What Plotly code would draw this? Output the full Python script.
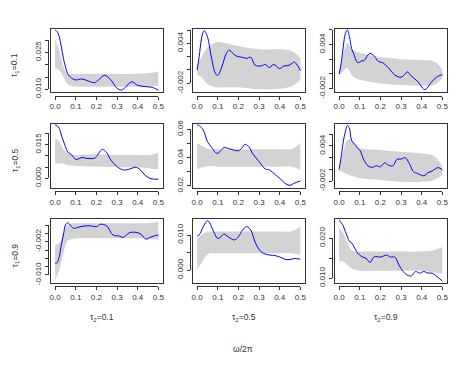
import plotly.graph_objects as go

W, H = 457, 381

# row / column labels
TAU1 = ["0.1", "0.5", "0.9"]
TAU2 = ["0.1", "0.5", "0.9"]
X_TICKS = [0.0, 0.1, 0.2, 0.3, 0.4, 0.5]
X_LABELS = ["0.0", "0.1", "0.2", "0.3", "0.4", "0.5"]

# frequency grid of the grey bands
BAND_X = [0.0, 0.02, 0.04, 0.06, 0.08, 0.10, 0.20, 0.30, 0.40, 0.46, 0.50]

# tau1=0.1, tau2=0.1
omega_11 = [0, 0.01, 0.02, 0.03, 0.04, 0.05, 0.06, 0.08, 0.10, 0.13, 0.16, 0.19, 0.21, 0.24,
            0.27, 0.30, 0.32, 0.34, 0.37, 0.40, 0.44, 0.47, 0.50]
spec_11 = [0.0341, 0.0334, 0.0313, 0.0273, 0.0226, 0.0192, 0.0165, 0.0145, 0.0138, 0.0142, 0.0134,
           0.0127, 0.0138, 0.0157, 0.0138, 0.0104, 0.0097, 0.0108, 0.0131, 0.0116, 0.0111, 0.0108, 0.0097]
lower_11 = [0.0185, 0.0178, 0.0151, 0.0122, 0.0114, 0.0111, 0.0111, 0.0111, 0.0111, 0.0112, 0.0114]
upper_11 = [0.0303, 0.0260, 0.0192, 0.0162, 0.0162, 0.0162, 0.0163, 0.0162, 0.0163, 0.0166, 0.0172]

# tau1=0.1, tau2=0.5
omega_12 = [0, 0.01, 0.02, 0.03, 0.035, 0.05, 0.07, 0.09, 0.10, 0.12, 0.14, 0.155, 0.17, 0.19, 0.22,
            0.24, 0.26, 0.28, 0.31, 0.33, 0.35, 0.37, 0.40, 0.42, 0.44, 0.46, 0.47, 0.49, 0.50]
spec_12 = [0.0, 0.002, 0.0045, 0.00575, 0.0059, 0.005, 0.00175, -0.0006, -0.0008, 0.0005, 0.0024,
           0.003, 0.0026, 0.0021, 0.0019, 0.00175, 0.0019, 0.00075, 0.0006, 0.00085, 0.00035,
           0.00085, 0.0002, 0.0006, 0.00065, 0.001, 0.0012, 0.0005, -0.0001]
lower_12 = [-0.0008, -0.0010, -0.0018, -0.0023, -0.0025, -0.0026, -0.0026, -0.0029, -0.0028, -0.0024, -0.0015]
upper_12 = [0.0008, 0.0018, 0.0030, 0.0036, 0.0040, 0.0042, 0.0036, 0.0031, 0.0031, 0.0028, 0.0018]

# tau1=0.1, tau2=0.9
omega_13 = [0, 0.01, 0.02, 0.03, 0.04, 0.05, 0.06, 0.07, 0.09, 0.11, 0.12, 0.14, 0.15, 0.17, 0.19,
            0.21, 0.24, 0.27, 0.30, 0.32, 0.33, 0.35, 0.38, 0.41, 0.42, 0.45, 0.48, 0.50]
spec_13 = [0, 0.00145, 0.0037, 0.0055, 0.006, 0.0051, 0.0035, 0.0028, 0.00155, 0.0018, 0.0018,
           0.0026, 0.0028, 0.00245, 0.0017, 0.00155, 0.0008, -0.00015, -0.00045, 0.0, 0.0003,
           -0.0003, -0.001, -0.0021, -0.0021, -0.001, -0.0003, -0.0001]
lower_13 = [-0.0002, 0.0004, 0.0008, -0.0001, -0.0006, -0.0008, -0.0013, -0.0015, -0.0016, -0.0015, -0.0006]
upper_13 = [0.0003, 0.0028, 0.0042, 0.0034, 0.0031, 0.0029, 0.0023, 0.0020, 0.0019, 0.0017, 0.0006]

# tau1=0.5, tau2=0.1
omega_21 = [0, 0.01, 0.02, 0.03, 0.05, 0.06, 0.08, 0.10, 0.12, 0.13, 0.15, 0.19, 0.20, 0.22, 0.23,
            0.25, 0.27, 0.30, 0.33, 0.36, 0.39, 0.41, 0.43, 0.45, 0.47, 0.50]
spec_21 = [0.0237, 0.0234, 0.0222, 0.0193, 0.0141, 0.0119, 0.0104, 0.0084, 0.0089, 0.0093, 0.0089,
           0.0089, 0.0096, 0.0123, 0.0129, 0.0114, 0.0081, 0.0052, 0.0037, 0.0041, 0.0049, 0.004,
           0.0019, 0.0004, -0.0003, -0.0004]
lower_21 = [0.0067, 0.0065, 0.0065, 0.0059, 0.0057, 0.0055, 0.0052, 0.0049, 0.0049, 0.0044, 0.0040]
upper_21 = [0.0178, 0.0163, 0.0129, 0.0114, 0.0106, 0.0104, 0.0107, 0.0104, 0.0104, 0.0104, 0.0114]

# tau1=0.5, tau2=0.5
omega_22 = [0, 0.01, 0.03, 0.05, 0.07, 0.09, 0.10, 0.12, 0.13, 0.16, 0.20, 0.22, 0.23, 0.25, 0.27,
            0.30, 0.33, 0.35, 0.38, 0.40, 0.43, 0.45, 0.47, 0.50]
spec_22 = [0.0631, 0.0626, 0.0595, 0.0513, 0.0473, 0.0435, 0.0431, 0.0459, 0.0471, 0.0461, 0.0449,
           0.0473, 0.0494, 0.0478, 0.0426, 0.0372, 0.032, 0.0313, 0.0278, 0.0254, 0.0214, 0.0205,
           0.0219, 0.0235]
lower_22 = [0.0318, 0.0330, 0.0336, 0.0341, 0.0340, 0.0336, 0.0336, 0.0336, 0.0336, 0.0335, 0.0313]
upper_22 = [0.0501, 0.0485, 0.0470, 0.0459, 0.0459, 0.0459, 0.0459, 0.0459, 0.0459, 0.0462, 0.0501]

# tau1=0.5, tau2=0.9
omega_23 = [0, 0.01, 0.02, 0.03, 0.04, 0.05, 0.06, 0.08, 0.09, 0.10, 0.12, 0.14, 0.16, 0.18, 0.20,
            0.22, 0.24, 0.26, 0.28, 0.30, 0.32, 0.34, 0.36, 0.38, 0.41, 0.43, 0.45, 0.48, 0.50]
spec_23 = [0, 0.00216, 0.0047, 0.0064, 0.0075, 0.007, 0.005, 0.0041, 0.0036, 0.0033, 0.0016, 0.0006,
           0.00034, 0.0006, 0.00045, 0.0011, 0.0007, 0.0006, 0.0017, 0.00176, 0.002, 0.001, -0.0004,
           -0.0007, -0.0011, -0.00057, -0.0003, 0.0003, -0.0001]
lower_23 = [-0.0002, -0.0005, -0.0009, -0.0011, -0.0013, -0.0015, -0.0018, -0.0021, -0.0021, -0.0018, -0.0010]
upper_23 = [0.0002, 0.0030, 0.0050, 0.0050, 0.0040, 0.0036, 0.0033, 0.0030, 0.0027, 0.0023, 0.0005]

# tau1=0.9, tau2=0.1
omega_31 = [0, 0.01, 0.02, 0.03, 0.04, 0.05, 0.06, 0.07, 0.09, 0.11, 0.14, 0.17, 0.20, 0.22, 0.25,
            0.28, 0.31, 0.33, 0.36, 0.40, 0.42, 0.44, 0.46, 0.48, 0.50]
spec_31 = [-0.0072, -0.007, -0.0056, -0.0028, -0.0004, 0.002, 0.00256, 0.0022, 0.0012, 0.00144,
           0.00176, 0.0018, 0.0016, 0.0022, 0.00176, -0.0004, -0.00064, -0.00096, 0.00016, 0.00016,
           -0.0004, -0.0014, -0.00096, -0.0006, -0.0004]
lower_31 = [-0.0112, -0.0088, -0.0048, -0.0018, -0.0014, -0.0012, -0.0012, -0.0012, -0.0012, -0.0013, -0.0016]
upper_31 = [-0.0028, -0.0024, 0.0000, 0.0020, 0.0024, 0.0024, 0.0024, 0.0024, 0.0024, 0.0025, 0.0028]

# tau1=0.9, tau2=0.5
omega_32 = [0, 0.01, 0.03, 0.05, 0.06, 0.08, 0.10, 0.12, 0.13, 0.15, 0.18, 0.20, 0.22, 0.24, 0.26,
            0.28, 0.30, 0.32, 0.35, 0.38, 0.41, 0.43, 0.45, 0.47, 0.50]
spec_32 = [0.0097, 0.01, 0.0124, 0.0141, 0.0135, 0.011, 0.009, 0.0098, 0.0103, 0.0095, 0.0086, 0.0095,
           0.0114, 0.0124, 0.0114, 0.0081, 0.0059, 0.0048, 0.0043, 0.0041, 0.0035, 0.003, 0.003,
           0.0033, 0.0031]
lower_32 = [0.0002, 0.0019, 0.0038, 0.0048, 0.0048, 0.0048, 0.0048, 0.0048, 0.0048, 0.0048, 0.0043]
upper_32 = [0.0090, 0.0100, 0.0107, 0.0110, 0.0110, 0.0110, 0.0110, 0.0110, 0.0110, 0.0111, 0.0124]

# tau1=0.9, tau2=0.9
omega_33 = [0, 0.01, 0.02, 0.03, 0.04, 0.05, 0.06, 0.08, 0.09, 0.11, 0.13, 0.15, 0.17, 0.20, 0.23,
            0.25, 0.27, 0.29, 0.31, 0.33, 0.35, 0.37, 0.39, 0.41, 0.43, 0.45, 0.47, 0.50]
spec_33 = [0.0246, 0.0239, 0.0231, 0.0217, 0.0204, 0.0192, 0.0189, 0.0171, 0.0163, 0.0154, 0.015,
           0.014, 0.0154, 0.0153, 0.0158, 0.0153, 0.0153, 0.0133, 0.0117, 0.0108, 0.0106, 0.0117,
           0.0113, 0.0117, 0.0113, 0.0113, 0.0106, 0.0093]
lower_33 = [0.0142, 0.0142, 0.0133, 0.0125, 0.0121, 0.0119, 0.0119, 0.0119, 0.0119, 0.0115, 0.0111]
upper_33 = [0.0225, 0.0213, 0.0188, 0.0171, 0.0167, 0.0167, 0.0167, 0.0167, 0.0167, 0.0170, 0.0178]

# y tick values and the labels R actually printed (others dropped for overlap)
yticks_a = [-0.002, 0.0, 0.002, 0.004, 0.006]
ylabels_a = ["-0.002", "", "", "0.004", ""]
yticks_11 = [0.010, 0.015, 0.020, 0.025, 0.030]
ylabels_11 = ["0.010", "", "", "0.025", ""]
yticks_21 = [0.0, 0.005, 0.010, 0.015, 0.020]
ylabels_21 = ["0.000", "", "", "0.015", ""]
yticks_22 = [0.02, 0.03, 0.04, 0.05, 0.06]
ylabels_22 = ["0.02", "", "0.04", "", "0.06"]
yticks_31 = [-0.010, -0.008, -0.006, -0.004, -0.002, 0.0, 0.002]
ylabels_31 = ["-0.010", "", "", "", "-0.002", "", ""]
yticks_32 = [0.0, 0.005, 0.010]
ylabels_32 = ["0.000", "", "0.010"]
yticks_33 = [0.010, 0.015, 0.020]
ylabels_33 = ["0.010", "", "0.020"]

panels = [
    (omega_11, spec_11, lower_11, upper_11, yticks_11, ylabels_11, [0.0088, 0.0347]),
    (omega_12, spec_12, lower_12, upper_12, yticks_a, ylabels_a, [-0.00335, 0.00623]),
    (omega_13, spec_13, lower_13, upper_13, yticks_a, ylabels_a, [-0.0025, 0.0062]),
    (omega_21, spec_21, lower_21, upper_21, yticks_21, ylabels_21, [-0.0041, 0.0243]),
    (omega_22, spec_22, lower_22, upper_22, yticks_22, ylabels_22, [0.0189, 0.064]),
    (omega_23, spec_23, lower_23, upper_23, yticks_a, ylabels_a, [-0.0031, 0.0078]),
    (omega_31, spec_31, lower_31, upper_31, yticks_31, ylabels_31, [-0.01185, 0.00347]),
    (omega_32, spec_32, lower_32, upper_32, yticks_32, ylabels_32, [-0.0036, 0.0146]),
    (omega_33, spec_33, lower_33, upper_33, yticks_33, ylabels_33, [0.0089, 0.02485]),
]

# panel geometry in window pixels; the page body adds an 8px margin
OFF = 8
col_left = [51, 193, 335]
row_top = [28.5, 123.7, 218.9]
box_w, box_h = 111.5, 63.8
gap = 3.5
xr = [-0.02, 0.52]
ink = "#333333"
font = dict(family="Liberation Sans, Arial", size=8, color=ink)


def px(p):
    return (p - OFF) / W


def py(p):
    return 1 - (p - OFF) / H


fig = go.Figure()
layout = {}

for k, (om, sp, lo, hi, yt, yl, yr) in enumerate(panels):
    i, j = divmod(k, 3)
    n, m = k + 1, k + 10
    s = "" if n == 1 else str(n)
    x0, x1 = col_left[j], col_left[j] + box_w
    y0, y1 = row_top[i], row_top[i] + box_h

    fig.add_trace(go.Scatter(x=BAND_X, y=lo, mode="lines", line=dict(width=0, shape="spline"),
                             xaxis="x" + s, yaxis="y" + s, showlegend=False, hoverinfo="skip"))
    fig.add_trace(go.Scatter(x=BAND_X, y=hi, mode="lines", line=dict(width=0, shape="spline"),
                             fill="tonexty", fillcolor="#d3d3d3",
                             xaxis="x" + s, yaxis="y" + s, showlegend=False, hoverinfo="skip"))
    fig.add_trace(go.Scatter(x=om, y=sp, mode="lines", line=dict(color="#0000ff", width=1, shape="spline"),
                             xaxis="x" + s, yaxis="y" + s, showlegend=False, hoverinfo="skip"))
    # carrier for the detached R-style axes
    fig.add_trace(go.Scatter(x=[None], y=[None], mode="markers", xaxis="x%d" % m, yaxis="y%d" % m,
                             showlegend=False, hoverinfo="skip"))

    layout["xaxis" + s] = dict(domain=[px(x0), px(x1)], range=xr, anchor="y" + s, automargin=False,
                               showline=True, mirror=True, linecolor=ink, linewidth=1,
                               showticklabels=False, ticks="", showgrid=False, zeroline=False)
    layout["yaxis" + s] = dict(domain=[py(y1), py(y0)], range=yr, anchor="x" + s, automargin=False,
                               showline=True, mirror=True, linecolor=ink, linewidth=1,
                               showticklabels=False, ticks="", showgrid=False, zeroline=False)

    # x axis line only spans 0 .. 0.5
    ax0 = x0 + (X_TICKS[0] - xr[0]) / (xr[1] - xr[0]) * box_w
    ax1 = x0 + (X_TICKS[-1] - xr[0]) / (xr[1] - xr[0]) * box_w
    layout["xaxis%d" % m] = dict(domain=[px(ax0), px(ax1)], range=[X_TICKS[0], X_TICKS[-1]],
                                 anchor="free", position=py(y1 + gap), side="bottom",
                                 automargin=False, showline=True, linecolor=ink, linewidth=1,
                                 ticks="outside", ticklen=3, tickwidth=1, tickcolor=ink,
                                 tickvals=X_TICKS, ticktext=X_LABELS, tickfont=font,
                                 showgrid=False, zeroline=False)

    # labelled ticks are major ticks; the ones R left unlabelled are plain minor ticks
    yt_in = [t for t in yt if yr[0] <= t <= yr[1]]
    lab_v = [t for t, l in zip(yt, yl) if l and yr[0] <= t <= yr[1]]
    lab_t = [l for t, l in zip(yt, yl) if l and yr[0] <= t <= yr[1]]
    ay0 = y1 - (yt_in[0] - yr[0]) / (yr[1] - yr[0]) * box_h
    ay1 = y1 - (yt_in[-1] - yr[0]) / (yr[1] - yr[0]) * box_h
    layout["yaxis%d" % m] = dict(domain=[py(ay0), py(ay1)], range=[yt_in[0], yt_in[-1]],
                                 anchor="free", position=px(x0 - gap), side="left",
                                 automargin=False, showline=True, linecolor=ink, linewidth=1,
                                 ticks="outside", ticklen=3, tickwidth=1, tickcolor=ink,
                                 tickvals=lab_v, ticktext=lab_t, tickangle=-90, tickfont=font,
                                 minor=dict(tickvals=yt_in, ticks="outside", ticklen=3, tickwidth=1,
                                            tickcolor=ink, showgrid=False),
                                 showgrid=False, zeroline=False)

annotations = []
for i, t in enumerate(TAU1):
    annotations.append(dict(text="τ<sub>1</sub>=" + t, x=px(15), y=py(row_top[i] + 36.5),
                            xref="paper", yref="paper", textangle=-90, showarrow=False,
                            xanchor="center", yanchor="middle", font=dict(font, size=8.5)))
for j, t in enumerate(TAU2):
    annotations.append(dict(text="τ<sub>2</sub>=" + t, x=px(col_left[j] + box_w / 2 - 5), y=py(317),
                            xref="paper", yref="paper", showarrow=False,
                            xanchor="center", yanchor="middle", font=dict(font, size=8.5)))
annotations.append(dict(text="ω/2π", x=px(243), y=py(348.5), xref="paper", yref="paper",
                        showarrow=False, xanchor="center", yanchor="middle", font=dict(font, size=8.5)))

fig.update_layout(**layout)
fig.update_layout(width=W, height=H, margin=dict(l=0, r=0, t=0, b=0, autoexpand=False),
                  template="none", paper_bgcolor="white", plot_bgcolor="rgba(0,0,0,0)",
                  font=font, annotations=annotations, showlegend=False)

fig.write_html("out.html")
